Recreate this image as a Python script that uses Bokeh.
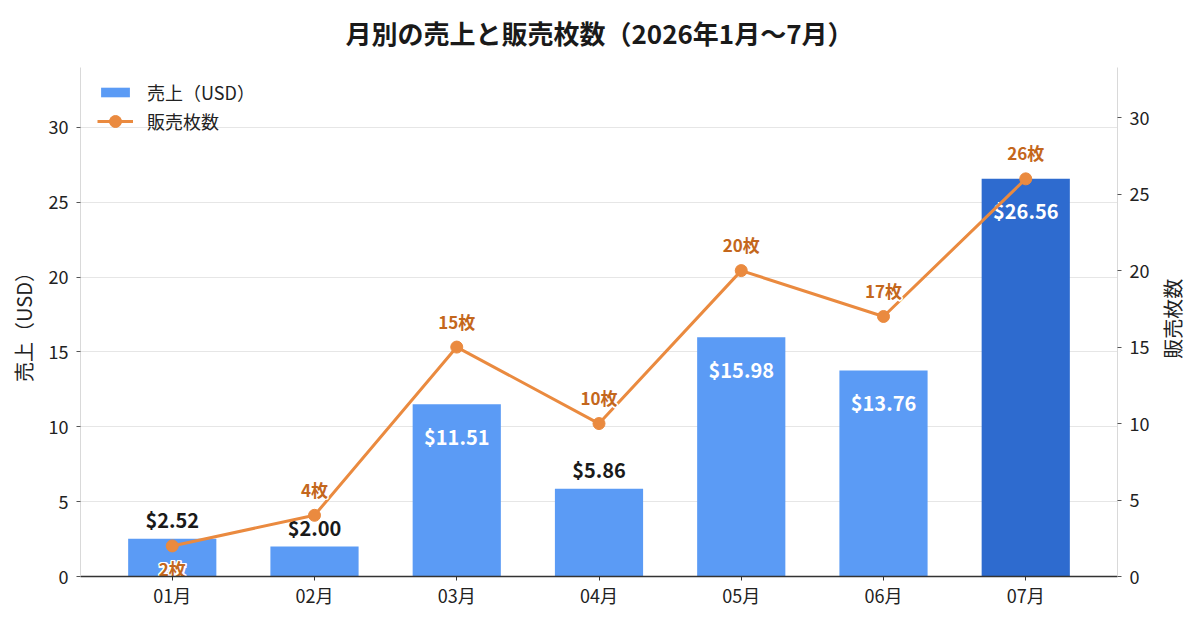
import math
from bokeh.plotting import figure
from bokeh.layouts import row, column
from bokeh.models import (Range1d, LinearAxis, FixedTicker, SingleIntervalTicker,
                          ColumnDataSource, Legend, LegendItem)
from bokeh.core.properties import value
from bokeh.embed import file_html
from bokeh.resources import INLINE

title = "月別の売上と販売枚数（2026年1月〜7月）"
months = ["01月", "02月", "03月", "04月", "05月", "06月", "07月"]
sales = [2.52, 2.00, 11.51, 5.86, 15.98, 13.76, 26.56]
counts = [2, 4, 15, 10, 20, 17, 26]
left_label = "売上（USD）"
right_label = "販売枚数"

FONT = "Noto Sans CJK JP"
BLUE = "#5b9bf5"
DARK_BLUE = "#2e6bcf"
ORANGE = "#ea8a3f"
LABEL_ORANGE = "#c4671c"
TXT = "#222222"

TOTAL_W = 1192
TITLE_H = 60
W, H = 1152, 556
SIDE_W = TOTAL_W - W
BL, BR, BT, BB = 80, 34, 7, 40
FW, FH = W - BL - BR, H - BT - BB


def blank(width, height):
    f = figure(width=width, height=height, output_backend="svg", toolbar_location=None,
               x_range=Range1d(0, width), y_range=Range1d(0, height),
               x_axis_location=None, y_axis_location=None, min_border=0)
    f.outline_line_color = None
    f.grid.grid_line_color = None
    return f


# title strip
t = blank(TOTAL_W, TITLE_H)
t.text(x=[BL + FW / 2], y=[TITLE_H - 32], text=[title], text_align="center",
       text_baseline="middle", text_font=value(FONT), text_font_size="26px",
       text_font_style="bold", text_color="#1a1a1a")

xs = list(range(len(months)))
max_i = sales.index(max(sales))
colors = [DARK_BLUE if i == max_i else BLUE for i in xs]

p = figure(width=W, height=H, output_backend="svg", toolbar_location=None,
           x_range=Range1d(-0.645, len(months) - 1 + 0.645),
           y_range=Range1d(0, max(sales) * 1.28),
           min_border_left=BL, min_border_right=BR, min_border_top=BT, min_border_bottom=BB)
p.extra_y_ranges = {"cnt": Range1d(0, max(counts) * 1.28)}
p.outline_line_color = None
p.background_fill_color = "white"
p.xgrid.grid_line_color = None
p.ygrid.grid_line_color = "#e6e6e6"
p.ygrid.grid_line_width = 1

# x axis
p.xaxis.ticker = FixedTicker(ticks=xs)
p.xaxis.major_label_overrides = {i: m for i, m in enumerate(months)}
p.xaxis.axis_line_color = "#333333"
p.xaxis.axis_line_width = 1.5
p.xaxis.major_tick_line_color = "#333333"
p.xaxis.major_tick_out = 4
p.xaxis.major_tick_in = 0
p.xaxis.major_label_standoff = 1
p.xaxis.minor_tick_line_color = None
p.xaxis.major_label_text_font = FONT
p.xaxis.major_label_text_font_size = "18px"
p.xaxis.major_label_text_color = TXT


def style_y(ax, standoff):
    ax.axis_line_color = "#d9d9d9"
    ax.major_tick_line_color = "#555555"
    ax.major_tick_out = 4
    ax.major_tick_in = 0
    ax.minor_tick_line_color = None
    ax.major_label_standoff = standoff
    ax.major_label_text_font = FONT
    ax.major_label_text_font_size = "18px"
    ax.major_label_text_color = TXT
    ax.axis_label_text_font = FONT
    ax.axis_label_text_font_size = "20px"
    ax.axis_label_text_font_style = "normal"
    ax.axis_label_text_color = TXT


p.yaxis.ticker = SingleIntervalTicker(interval=5)
p.yaxis.axis_label = left_label
p.yaxis.axis_label_standoff = 8
style_y(p.yaxis[0], 8)

rax = LinearAxis(y_range_name="cnt", ticker=SingleIntervalTicker(interval=5))
style_y(rax, 8)
p.add_layout(rax, "right")

src = ColumnDataSource(dict(x=xs, sales=sales, counts=counts, color=colors))
bars = p.vbar(x="x", top="sales", width=0.62, fill_color="color", line_color=None, source=src)

# bar value labels
thr = 10
out_idx = [i for i in xs if sales[i] < thr]
in_idx = [i for i in xs if sales[i] >= thr]
p.text(x=[xs[i] for i in out_idx], y=[sales[i] for i in out_idx],
       text=[f"${sales[i]:.2f}" for i in out_idx], y_offset=-19,
       text_align="center", text_baseline="middle", text_font=value(FONT),
       text_font_size="20px", text_font_style="bold", text_color="#1a1a1a")
p.text(x=[xs[i] for i in in_idx], y=[sales[i] for i in in_idx],
       text=[f"${sales[i]:.2f}" for i in in_idx], y_offset=32,
       text_align="center", text_baseline="middle", text_font=value(FONT),
       text_font_size="20px", text_font_style="bold", text_color="white")

line = p.line(x="x", y="counts", y_range_name="cnt", line_color=ORANGE, line_width=3, source=src)
pts = p.scatter(x="x", y="counts", y_range_name="cnt", size=12, fill_color=ORANGE,
                line_color=ORANGE, source=src)

# count labels (with white halo)
clabels = [f"{c}枚" for c in counts]
offs = [23 if i == 0 else -26 for i in xs]
for dx, dy in [(-1.6, 0), (1.6, 0), (0, -1.6), (0, 1.6), (-1.2, -1.2), (1.2, 1.2), (-1.2, 1.2), (1.2, -1.2)]:
    p.text(x=xs, y=counts, text=clabels, y_range_name="cnt",
           x_offset=dx, y_offset=[o + dy for o in offs],
           text_align="center", text_baseline="middle", text_font=value(FONT),
           text_font_size="17px", text_font_style="bold", text_color="white")
p.text(x=xs, y=counts, text=clabels, y_range_name="cnt",
       y_offset=offs, text_align="center", text_baseline="middle", text_font=value(FONT),
       text_font_size="17px", text_font_style="bold", text_color=LABEL_ORANGE)


def make_legend(items, gh, lh, vy):
    lg = Legend(items=items, location=(17, vy), orientation="vertical")
    lg.border_line_color = None
    lg.background_fill_alpha = 0
    lg.label_text_font = FONT
    lg.label_text_font_size = "18px"
    lg.label_text_color = TXT
    lg.label_text_baseline = "middle"
    lg.glyph_width = 36
    lg.glyph_height = gh
    lg.label_height = lh
    lg.spacing = 0
    lg.margin = 0
    lg.padding = 0
    lg.label_standoff = 14
    p.add_layout(lg)


make_legend([LegendItem(label="売上（USD）", renderers=[bars], index=0)], 12, 22, FH - 38)
make_legend([LegendItem(label="販売枚数", renderers=[line, pts])], 30, 30, FH - 69)

# right axis title (reads bottom-to-top), drawn in a narrow side panel
q = blank(SIDE_W, H)
q.text(x=[1172 - W], y=[H - (BT + FH / 2) - 13], text=[right_label], angle=math.pi / 2,
       text_align="center", text_baseline="middle", text_font=value(FONT),
       text_font_size="20px", text_color=TXT)

layout = column(t, row(p, q, spacing=0), spacing=0)
open("out.html", "w").write(file_html(layout, INLINE))
